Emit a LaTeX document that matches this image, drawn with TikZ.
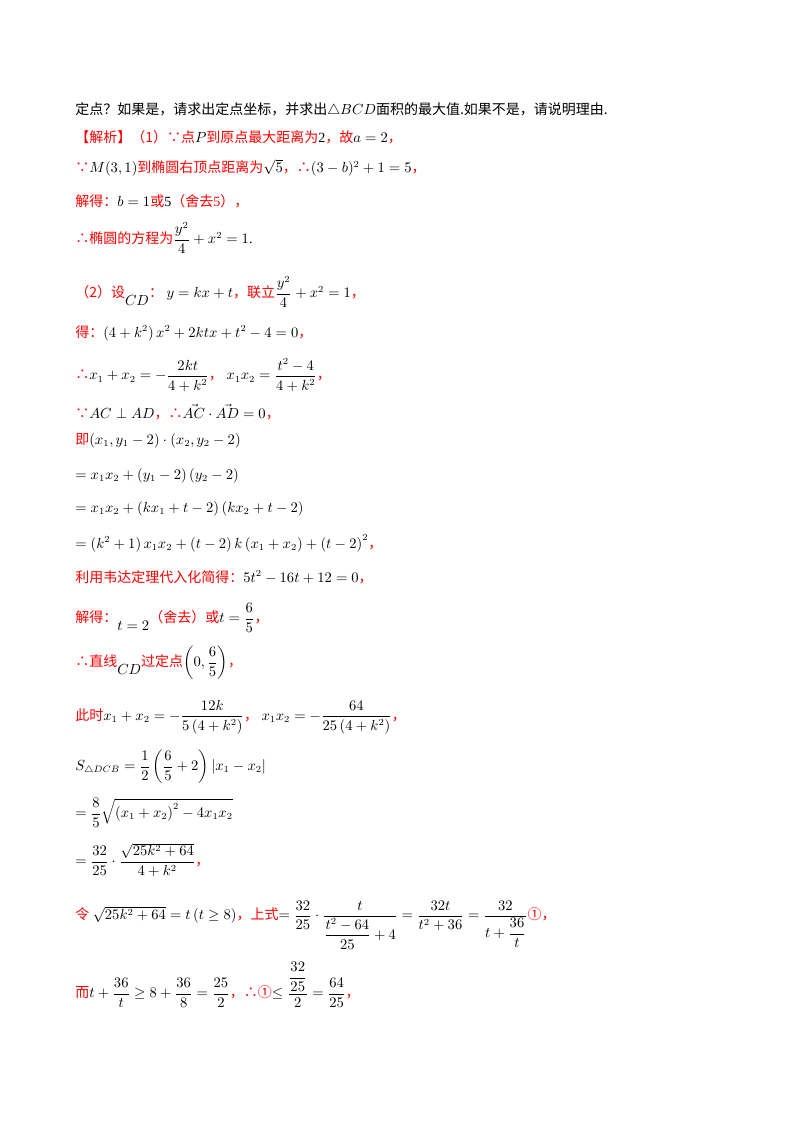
\documentclass[tikz,border=0pt]{standalone}
\usepackage{fontspec}
\usepackage{amsmath,amssymb}
\setmainfont{Liberation Serif}
\newfontfamily\cjk{Noto Sans CJK SC}
\newcommand{\R}[1]{\textcolor{red}{\cjk #1}}
\newcommand{\K}[1]{{\cjk #1}}
\begin{document}
\begin{tikzpicture}[x=0.75pt,y=-0.75pt,
  L/.style={anchor=west,inner sep=0pt,font=\fontsize{10.5}{13}\selectfont}]
\useasboundingbox[fill=white] (0,0) rectangle (800,1132);
\node[L] (l1) at (75,110) {\K{定点？如果是，请求出定点坐标，并求出}$\triangle BCD$\K{面积的最大值.如果不是，请说明理由.}};
\node[L] (l2) at (75,137) {\R{【解析】（1）∵点}$P$\R{到原点最大距离为}2\R{，故}$a=2$\R{，}};
\node[L] (l3) at (75,168) {\R{∵}$M(3,1)$\R{到椭圆右顶点距离为}$\sqrt5$\R{，∴}$(3-b)^2+1=5$\R{，}};
\node[L] (l4) at (75,201) {\R{解得：}$b=1$\R{或}5\R{（舍去}\textcolor{red}{5}\R{），}};
\node[L] (l5) at (75,238) {\R{∴椭圆的方程为}$\dfrac{y^2}{4}+x^2=1$.};
\node[L] (l6) at (75,292) {\R{（2）设}$\raisebox{-1.2ex}{$CD$}$\R{：}\ $y=kx+t$\R{，联立}$\dfrac{y^2}{4}+x^2=1$\R{，}};
\node[L] (l7) at (75,333) {\R{得：}$\left(4+k^2\right)x^2+2ktx+t^2-4=0$\R{，}};
\node[L] (l8) at (75,375) {\R{∴}$x_1+x_2=-\dfrac{2kt}{4+k^2}$\R{，}\ $x_1x_2=\dfrac{t^2-4}{4+k^2}$\R{，}};
\node[L] (l9) at (75,412) {\R{∵}$AC\perp AD$\R{，∴}$\vec{AC}\cdot\vec{AD}=0$\R{，}};
\node[L] (l10) at (75,441) {\R{即}$\left(x_1,y_1-2\right)\cdot\left(x_2,y_2-2\right)$};
\node[L] (l11) at (75,476) {$=x_1x_2+\left(y_1-2\right)\left(y_2-2\right)$};
\node[L] (l12) at (75,509) {$=x_1x_2+\left(kx_1+t-2\right)\left(kx_2+t-2\right)$};
\node[L] (l13) at (75,543) {$=\left(k^2+1\right)x_1x_2+\left(t-2\right)k\left(x_1+x_2\right)+\left(t-2\right)^2$\R{，}};
\node[L] (l14) at (75,577) {\R{利用韦达定理代入化简得：}$5t^2-16t+12=0$\R{，}};
\node[L] (l15) at (75,618) {\R{解得：}$\raisebox{-1.2ex}{$t=2$}$\R{（舍去）或}$t=\dfrac65$\R{，}};
\node[L] (l16) at (75,663) {\R{∴直线}$\raisebox{-1.2ex}{$CD$}$\R{过定点}$\left(0,\dfrac65\right)$\R{，}};
\node[L] (l17) at (75,717) {\R{此时}$x_1+x_2=-\dfrac{12k}{5\left(4+k^2\right)}$\R{，}\ $x_1x_2=-\dfrac{64}{25\left(4+k^2\right)}$\R{，}};
\node[L] (l18) at (75,767) {$S_{\triangle DCB}=\dfrac12\left(\dfrac65+2\right)\left|x_1-x_2\right|$};
\node[L] (l19) at (75,813) {$=\dfrac85\sqrt{\left(x_1+x_2\right)^2-4x_1x_2}$};
\node[L] (l20) at (75,860) {$=\dfrac{32}{25}\cdot\dfrac{\sqrt{25k^2+64}}{4+k^2}$\R{，}};
\node[L] (l21) at (75,925) {\R{令}\ $\sqrt{25k^2+64}=t\left(t\ge8\right)$\R{，上式}$=\dfrac{32}{25}\cdot\dfrac{t}{\dfrac{t^2-64}{25}+4}=\dfrac{32t}{t^2+36}=\dfrac{32}{t+\dfrac{36}{t}}$\R{①，}};
\node[L] (l22) at (75,985) {\R{而}$t+\dfrac{36}{t}\ge8+\dfrac{36}{8}=\dfrac{25}{2}$\R{，∴①}$\le\dfrac{\dfrac{32}{25}}{2}=\dfrac{64}{25}$\R{，}};
\end{tikzpicture}
\end{document}
